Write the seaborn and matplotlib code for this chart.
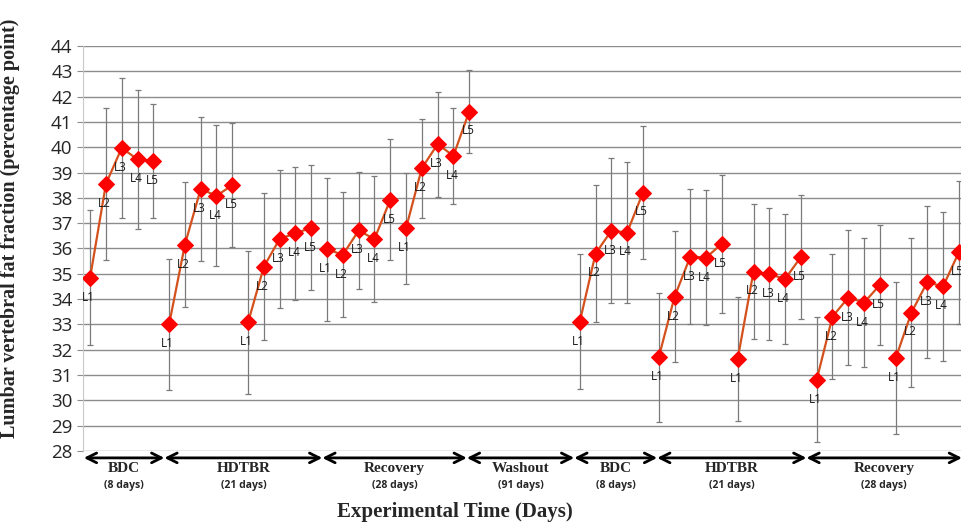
import numpy as np
import pandas as pd
import seaborn as sns
import matplotlib.pyplot as plt
from matplotlib.transforms import blended_transform_factory

# mean lumbar vertebral fat fraction per level, two campaigns of 5 sessions x L1..L5
levels = ['L1', 'L2', 'L3', 'L4', 'L5']

campaign1_mean = [34.85, 38.55, 39.97, 39.52, 39.47,
                  33.00, 36.15, 38.35, 38.08, 38.50,
                  33.08, 35.28, 36.38, 36.60, 36.82,
                  35.97, 35.75, 36.71, 36.37, 37.92,
                  36.80, 39.17, 40.12, 39.66, 41.41]
campaign1_sd = [2.65, 3.00, 2.75, 2.75, 2.25,
                2.60, 2.48, 2.85, 2.78, 2.45,
                2.81, 2.90, 2.73, 2.63, 2.48,
                2.82, 2.47, 2.32, 2.49, 2.39,
                2.20, 1.95, 2.07, 1.90, 1.64]

campaign2_mean = [33.10, 35.80, 36.70, 36.63, 38.21,
                  31.70, 34.09, 35.68, 35.64, 36.19,
                  31.64, 35.09, 34.98, 34.80, 35.66,
                  30.81, 33.31, 34.06, 33.86, 34.56,
                  31.66, 33.47, 34.67, 34.50, 35.85]
campaign2_sd = [2.67, 2.69, 2.87, 2.80, 2.64,
                2.55, 2.59, 2.65, 2.68, 2.73,
                2.44, 2.68, 2.60, 2.56, 2.44,
                2.47, 2.48, 2.65, 2.55, 2.36,
                3.00, 2.95, 3.00, 2.95, 2.83]

phase_names = ['BDC', 'HDTBR', 'Recovery', 'Washout', 'BDC', 'HDTBR', 'Recovery']
phase_days = ['(8 days)', '(21 days)', '(28 days)', '(91 days)', '(8 days)', '(21 days)', '(28 days)']

# layout: slot positions along x, washout gap of 6 empty slots
gap = 6
n1 = len(campaign1_mean)
pos1 = np.arange(n1)
pos2 = np.arange(len(campaign2_mean)) + n1 + gap
phase_bounds = [-0.4, 4.7, 14.7, 23.85, 30.65, 35.9, 45.35, 55.2]

df = pd.DataFrame({
    'pos': np.concatenate([pos1, pos2]),
    'mean': campaign1_mean + campaign2_mean,
    'sd': campaign1_sd + campaign2_sd,
})
df['level'] = levels * (len(df) // 5)
df['group'] = np.arange(len(df)) // 5

sns.set_style('white')
plt.rcParams['font.family'] = ['DejaVu Sans']

fig = plt.figure(figsize=(9.62, 5.22), dpi=100)
ax = fig.add_axes([0.0863, 0.136, 0.9137, 0.776])

ax.errorbar(df['pos'], df['mean'], yerr=df['sd'], fmt='none', ecolor='#7a7a7a',
            elinewidth=0.9, capsize=2.5, capthick=0.9, zorder=2)

sns.lineplot(data=df, x='pos', y='mean', units='group', estimator=None, ax=ax,
             color='#d4501c', linewidth=1.6, marker='D', markersize=8.5,
             markerfacecolor='#ff0000', markeredgecolor='#ff0000', zorder=3, legend=False)

for _, r in df.iterrows():
    ax.annotate(r['level'], (r['pos'], r['mean']), xytext=(-1, -14), textcoords='offset points',
                ha='center', va='center', fontsize=8.5, family='Open Sans', color='#1a1a1a', zorder=4)

ax.set_xlim(-0.45, 55.2)
ax.set_ylim(28, 44)
ax.set_yticks(range(28, 45))
ax.yaxis.grid(True, color='#8c8c8c', linewidth=1.0)
ax.set_axisbelow(True)
ax.set_xticks([])
ax.tick_params(axis='y', labelsize=13.5, length=4, color='#8c8c8c', left=True)
for lab in ax.get_yticklabels():
    lab.set_family('Open Sans')
for s in ['top', 'right', 'bottom']:
    ax.spines[s].set_visible(False)
ax.spines['left'].set_color('#c8c8c8')

ax.set_xlabel('')
ax.set_ylabel('Lumbar vertebral fat fraction (percentage point)', fontsize=14.5,
              fontweight='bold', family='Liberation Serif')
ax.yaxis.set_label_coords(-0.072, 0.55)

tr = blended_transform_factory(ax.transData, ax.transAxes)
for i, (name, days) in enumerate(zip(phase_names, phase_days)):
    a, b = phase_bounds[i], phase_bounds[i + 1]
    ax.annotate('', xy=(a, -0.017), xytext=(b, -0.017), xycoords=tr, textcoords=tr,
                arrowprops=dict(arrowstyle='<->,head_length=0.7,head_width=0.35',
                                lw=2, color='black', shrinkA=0, shrinkB=0),
                annotation_clip=False)
    mid = (a + b) / 2
    ax.text(mid, -0.042, name, transform=tr, ha='center', va='center', fontsize=11,
            fontweight='bold', family='Liberation Serif')
    ax.text(mid, -0.085, days, transform=tr, ha='center', va='center', fontsize=7.5,
            fontweight='bold', family='Open Sans')

fig.text(0.473, 0.02, 'Experimental Time (Days)', ha='center', va='center', fontsize=15,
         fontweight='bold', family='Liberation Serif')

fig.savefig('out.png', dpi=100)
